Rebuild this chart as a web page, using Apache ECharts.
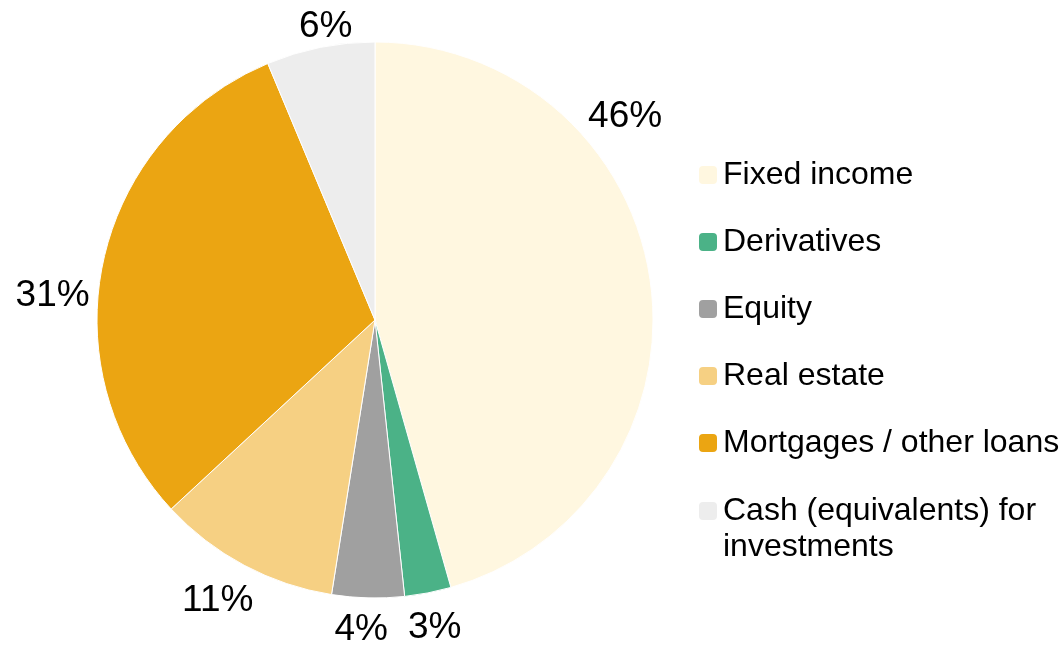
<!DOCTYPE html>
<html>
<head>
<meta charset="utf-8">
<style>
  html, body { margin: 0; padding: 0; background: #fff; }
  #chart { width: 1064px; height: 647px; }
</style>
<script src="https://cdn.jsdelivr.net/npm/echarts@6/dist/echarts.min.js"></script>
</head>
<body>
<div id="chart"></div>
<script>
  // asset allocation shares (%)
  const categories = ['Fixed income', 'Derivatives', 'Equity', 'Real estate', 'Mortgages / other loans', 'Cash (equivalents) for investments']
  const shares = [45.6, 2.7, 4.2, 10.6, 30.6, 6.3]
  const colors = ['#FFF7E0', '#4BB287', '#A0A0A0', '#F6D083', '#EBA512', '#EDEDED']
  // label placement tweaks: angle (deg) and radial pull (px)
  const labelShift = [-31.2, 0, 1.1, 1.2, -8, 1.8]
  const labelPull = [-8, 0, 0, -2, -5, -15]

  const cx = 375
  const cy = 320
  const radius = 278
  const labelGap = 290
  const font = 'Arial, "Liberation Sans", sans-serif'

  const total = shares.reduce((a, b) => a + b, 0)
  const midAngles = []
  let acc = 0
  shares.forEach(v => {
    midAngles.push((acc + v / 2) / total * 360)
    acc += v
  })

  const legendText = { fontSize: 32, lineHeight: 36, color: '#000', fontFamily: font }

  const chart = echarts.init(document.getElementById('chart'))
  chart.setOption({
    backgroundColor: '#fff',
    animation: false,
    color: colors,
    legend: [{
      orient: 'vertical',
      left: 697,
      top: 157,
      padding: 0,
      itemGap: 31,
      itemWidth: 20,
      itemHeight: 20,
      icon: 'roundRect',
      selectedMode: false,
      textStyle: legendText,
      data: categories.slice(0, 5)
    }, {
      orient: 'vertical',
      left: 697,
      top: 457,
      padding: 0,
      itemWidth: 20,
      itemHeight: 20,
      icon: 'roundRect',
      selectedMode: false,
      // empty first line keeps the icon level with the first text line
      formatter: name => '\n' + name.replace(' for ', ' for\n'),
      textStyle: legendText,
      data: categories.slice(5)
    }],
    series: [{
      type: 'pie',
      center: [cx, cy],
      radius: radius,
      startAngle: 90,
      clockwise: true,
      avoidLabelOverlap: false,
      emphasis: { disabled: true },
      itemStyle: { borderColor: '#fff', borderWidth: 1 },
      label: {
        show: true,
        position: 'outside',
        fontSize: 37,
        color: '#000',
        fontFamily: font,
        formatter: p => Math.round(p.percent) + '%'
      },
      labelLine: { show: false, length: 0, length2: 0 },
      labelLayout: function (params) {
        const i = params.dataIndex
        const a = (midAngles[i] + labelShift[i]) * Math.PI / 180
        const ux = Math.sin(a)
        const uy = -Math.cos(a)
        const w = params.labelRect.width
        const h = params.labelRect.height
        const d = labelGap + labelPull[i] + w / 2 * Math.abs(ux) + h / 2 * Math.abs(uy)
        return { x: cx + ux * d, y: cy + uy * d, align: 'center', verticalAlign: 'middle' }
      },
      data: categories.map((name, i) => ({ name: name, value: shares[i] }))
    }]
  })
</script>
</body>
</html>
